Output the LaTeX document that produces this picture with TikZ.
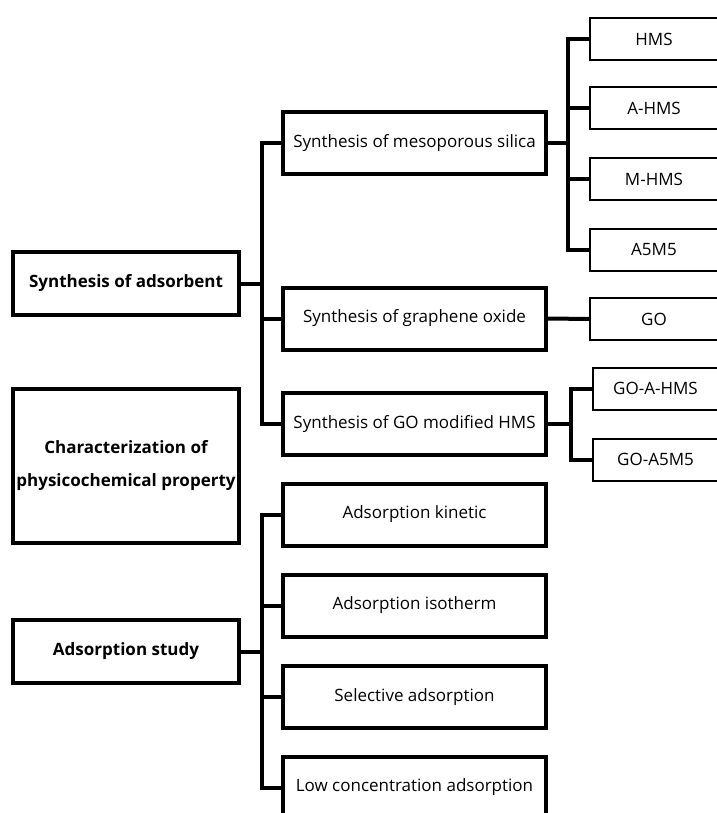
\documentclass[tikz,border=0pt]{standalone}
\usepackage{fontspec}
\setmainfont{Open Sans}
\usetikzlibrary{calc}

\begin{document}
\begin{tikzpicture}[x=1pt, y=-1pt, font=\fontsize{17}{33}\selectfont,
  mainbox/.style={draw, line width=4pt, minimum width=226pt, minimum height=63pt, inner sep=0pt, font=\fontsize{17}{33}\selectfont\bfseries},
  stepbox/.style={draw, line width=4pt, minimum width=263pt, minimum height=62pt, inner sep=0pt},
  leafbox/.style={draw, line width=2pt, minimum width=128pt, minimum height=42pt, inner sep=0pt},
  link/.style={line width=4pt}]
\useasboundingbox (0,0) rectangle (716,813);

\node[mainbox] (adsorb) at (126,283.5) {Synthesis of adsorbent};
\node[mainbox, minimum height=154pt, align=center] (charac) at (126,466) {Characterization of\\physicochemical property};
\node[mainbox] (study) at (126,651.5) {Adsorption study};

\foreach \n/\y/\t in {meso/143/Synthesis of mesoporous silica, graph/318.5/Synthesis of graphene oxide,
  gomod/424/Synthesis of GO modified HMS, kinetic/514.5/Adsorption kinetic, isotherm/605.5/Adsorption isotherm,
  selective/697/Selective adsorption, lowconc/787.5/Low concentration adsorption}
  \node[stepbox] (\n) at (414.5,\y) {\t};

\foreach \n/\y/\t in {hms/39/HMS, ahms/108.5/A-HMS, mhms/179/M-HMS, a5m5/249.5/A5M5, go/319/GO}
  \node[leafbox] (\n) at (654,\y) {\t};
\foreach \n/\y/\t in {goahms/388.5/GO-A-HMS, goa5m5/459.5/GO-A5M5}
  \node[leafbox, minimum width=125pt] (\n) at (655.5,\y) {\t};

\coordinate (ta) at (262,283.5);
\draw[link] (adsorb.east) -- (ta);
\draw[link] (meso.west) -| (ta |- gomod.west) -- (gomod.west);
\draw[link] (ta |- graph.west) -- (graph.west);

\coordinate (ts) at (262,651.5);
\draw[link] (study.east) -- (ts);
\draw[link] (kinetic.west) -| (ts |- lowconc.west) -- (lowconc.west);
\foreach \n in {isotherm,selective}
  \draw[link] (ts |- \n.west) -- (\n.west);

\coordinate (tm) at (568,143);
\draw[link] (meso.east) -- (tm);
\draw[link] (hms.west) -| (tm |- a5m5.west) -- (a5m5.west);
\foreach \n in {ahms,mhms}
  \draw[link] (tm |- \n.west) -- (\n.west);

\draw[link] (graph.east) -- (go.west);

\coordinate (tg) at (571,424);
\draw[link] (gomod.east) -- (tg);
\draw[link] (goahms.west) -| (tg |- goa5m5.west) -- (goa5m5.west);
\end{tikzpicture}
\end{document}
